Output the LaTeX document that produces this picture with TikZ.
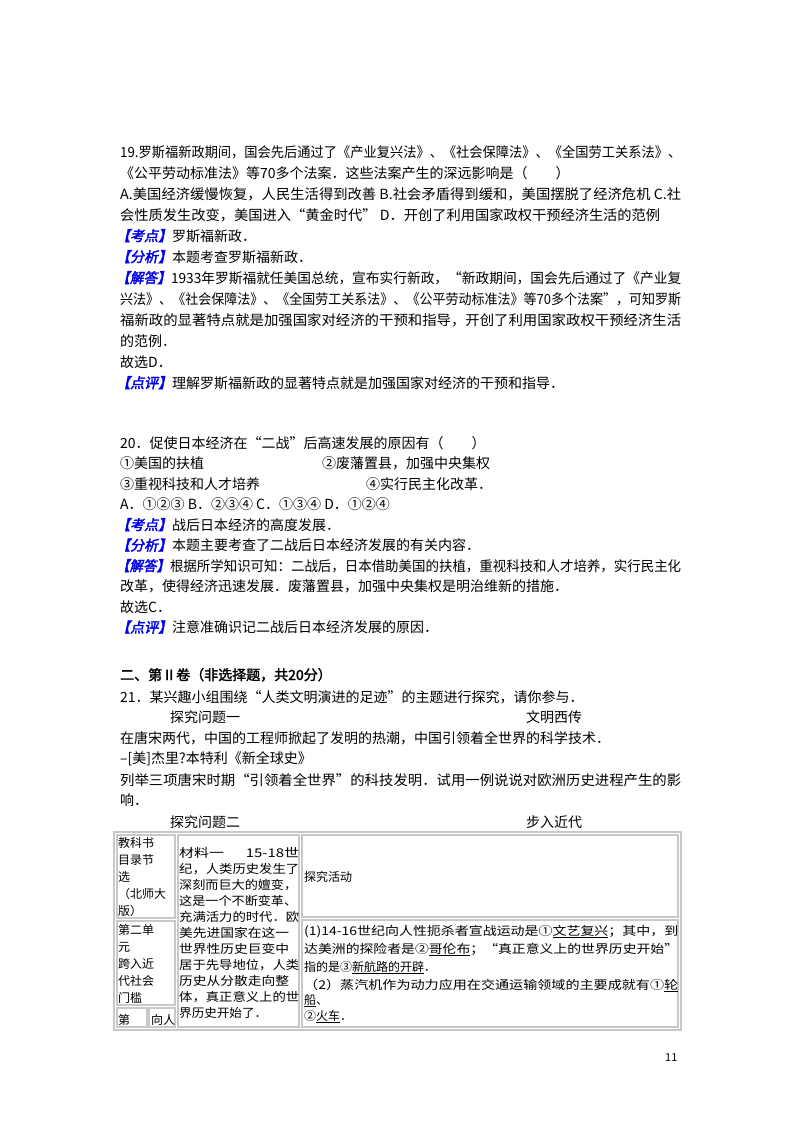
\documentclass[tikz,border=0pt]{standalone}
\usepackage{fontspec}
\usepackage{graphicx}
\setmainfont{Noto Sans CJK SC}
\newfontfamily\labfont[FakeBold=2.5,FakeSlant=0.2]{Noto Sans CJK SC}
\newfontfamily\boldfont[FakeBold=2]{Noto Sans CJK SC}
\definecolor{labblue}{RGB}{0,0,235}
\definecolor{tabgray}{RGB}{200,200,200}
\newcommand\fitw[2]{\resizebox{#1}{\height}{#2}}
\newcommand\lab[1]{{\labfont\color{labblue}【#1】}}
\newcommand\ul[1]{\underline{#1}}
\tikzset{
  ln/.style={anchor=base west, inner sep=0pt, font=\fontsize{14}{16}\selectfont},
  tl/.style={anchor=base west, inner sep=0pt, font=\fontsize{12}{14}\selectfont},
  cell/.style={draw=tabgray, line width=1.6pt},
}
\begin{document}
\begin{tikzpicture}[x=1pt,y=-1pt]
\useasboundingbox[fill=white] (0,0) rectangle (800,1132);
% Question 19
\node[ln] (a1) at (120,157) {\fitw{561pt}{19.罗斯福新政期间，国会先后通过了《产业复兴法》、《社会保障法》、《全国劳工关系法》、}};
\node[ln] (a2) at (120,178) {《公平劳动标准法》等70多个法案．这些法案产生的深远影响是（\quad\quad）};
\node[ln] (a3) at (120,199) {\fitw{561pt}{A.美国经济缓慢恢复，人民生活得到改善 B.社会矛盾得到缓和，美国摆脱了经济危机 C.社}};
\node[ln] (a4) at (120,220) {\fitw{540pt}{会性质发生改变，美国进入“黄金时代” D．开创了利用国家政权干预经济生活的范例}};
\node[ln] (a5) at (116,241) {\lab{考点}罗斯福新政．};
\node[ln] (a6) at (116,262) {\lab{分析}本题考查罗斯福新政．};
\node[ln] (a7) at (116,283) {\fitw{565pt}{\lab{解答}1933年罗斯福就任美国总统，宣布实行新政，“新政期间，国会先后通过了《产业复}};
\node[ln] (a8) at (120,304) {\fitw{561pt}{兴法》、《社会保障法》、《全国劳工关系法》、《公平劳动标准法》等70多个法案”，可知罗斯}};
\node[ln] (a9) at (120,325) {\fitw{561pt}{福新政的显著特点就是加强国家对经济的干预和指导，开创了利用国家政权干预经济生活}};
\node[ln] (a10) at (120,346) {的范例．};
\node[ln] (a11) at (120,367) {故选D．};
\node[ln] (a12) at (116,388) {\lab{点评}理解罗斯福新政的显著特点就是加强国家对经济的干预和指导．};
% Question 20
\node[ln] (b1) at (120,448) {20．促使日本经济在“二战”后高速发展的原因有（\quad\quad）};
\node[ln] (b2) at (120,468.5) {①美国的扶植};
\node[ln] (b2b) at (322,468.5) {②废藩置县，加强中央集权};
\node[ln] (b3) at (120,489) {③重视科技和人才培养};
\node[ln] (b3b) at (366,489) {④实行民主化改革．};
\node[ln] (b4) at (120,509.5) {A．①②③ B．②③④ C．①③④ D．①②④};
\node[ln] (b5) at (116,530) {\lab{考点}战后日本经济的高度发展．};
\node[ln] (b6) at (116,550.5) {\lab{分析}本题主要考查了二战后日本经济发展的有关内容．};
\node[ln] (b7) at (116,571) {\fitw{565pt}{\lab{解答}根据所学知识可知：二战后，日本借助美国的扶植，重视科技和人才培养，实行民主化}};
\node[ln] (b8) at (120,591.5) {改革，使得经济迅速发展．废藩置县，加强中央集权是明治维新的措施．};
\node[ln] (b9) at (120,612) {故选C．};
\node[ln] (b10) at (116,632.5) {\lab{点评}注意准确识记二战后日本经济发展的原因．};
% Part II
\node[ln] (c0) at (120,680) {\boldfont 二、第Ⅱ卷（非选择题，共20分）};
\node[ln] (c1) at (120,702) {21．某兴趣小组围绕“人类文明演进的足迹”的主题进行探究，请你参与．};
\node[ln] (c2) at (170,722) {探究问题一};
\node[ln] (c2b) at (526,722) {文明西传};
\node[ln] (c3) at (120,743) {在唐宋两代，中国的工程师掀起了发明的热潮，中国引领着全世界的科学技术．};
\node[ln] (c4) at (120,763) {--[美]杰里?本特利《新全球史》};
\node[ln] (c5) at (120,785) {\fitw{561pt}{列举三项唐宋时期“引领着全世界”的科技发明．试用一例说说对欧洲历史进程产生的影}};
\node[ln] (c6) at (120,805) {响．};
\node[ln] (c7) at (170,827) {探究问题二};
\node[ln] (c7b) at (526,827) {步入近代};
% Table
\draw[cell] (114,832) rectangle (681,1030);
\draw[cell] (117,835) rectangle (175,918);
\draw[cell] (117,921) rectangle (175,1005);
\draw[cell] (117,1008) rectangle (147,1027);
\draw[cell] (149,1008) rectangle (175,1027);
\draw[cell] (178,835) rectangle (299,1027);
\draw[cell] (302,835) rectangle (678,917);
\draw[cell] (302,920) rectangle (678,1027);
% col1
\node[tl] (t1) at (118,847) {教科书};
\node[tl] (t2) at (118,864) {目录节};
\node[tl] (t3) at (118,881) {选};
\node[tl] (t4) at (118,898) {（北师大};
\node[tl] (t5) at (118,915) {版）};
\node[tl] (t6) at (118,934) {第二单};
\node[tl] (t7) at (118,951) {元};
\node[tl] (t8) at (118,968) {跨入近};
\node[tl] (t9) at (118,985) {代社会};
\node[tl] (t10) at (118,1002) {门槛};
\node[tl] (t11) at (118,1024) {第};
\node[tl] (t12) at (151,1024) {向人};
% col2
\node[tl] (m1) at (179,857) {\fitw{120pt}{材料一\quad\ \ 15-18世}};
\node[tl] (m2) at (179,873) {\fitw{120pt}{纪，人类历史发生了}};
\node[tl] (m3) at (179,889) {\fitw{118pt}{深刻而巨大的嬗变，}};
\node[tl] (m4) at (179,905) {\fitw{118pt}{这是一个不断变革、}};
\node[tl] (m5) at (179,921) {\fitw{120pt}{充满活力的时代．欧}};
\node[tl] (m6) at (179,937) {\fitw{110pt}{美先进国家在这一}};
\node[tl] (m7) at (179,953) {\fitw{110pt}{世界性历史巨变中}};
\node[tl] (m8) at (179,969) {\fitw{120pt}{居于先导地位，人类}};
\node[tl] (m9) at (179,985) {\fitw{110pt}{历史从分散走向整}};
\node[tl] (m10) at (179,1001) {\fitw{120pt}{体，真正意义上的世}};
\node[tl] (m11) at (179,1017) {\fitw{88pt}{界历史开始了．}};
% col3
\node[tl] (h1) at (304,881) {探究活动};
\node[tl] (r1) at (304,935) {\fitw{374pt}{(1)14-16世纪向人性扼杀者宣战运动是①\ul{文艺复兴}；其中，到}};
\node[tl] (r2) at (304,953) {\fitw{374pt}{达美洲的探险者是②\ul{哥伦布}；“真正意义上的世界历史开始”}};
\node[tl] (r3) at (304,971) {指的是③\ul{新航路的开辟}．};
\node[tl] (r4) at (304,989) {\fitw{374pt}{（2）蒸汽机作为动力应用在交通运输领域的主要成就有①\ul{轮}}};
\node[tl] (r5) at (304,1004) {\ul{船}、};
\node[tl] (r6) at (304,1020) {②\ul{火车}．};
% page number
\node[anchor=base west, inner sep=0pt, font=\fontsize{11}{13}\selectfont] (pg) at (665,1061) {11};
\end{tikzpicture}
\end{document}
